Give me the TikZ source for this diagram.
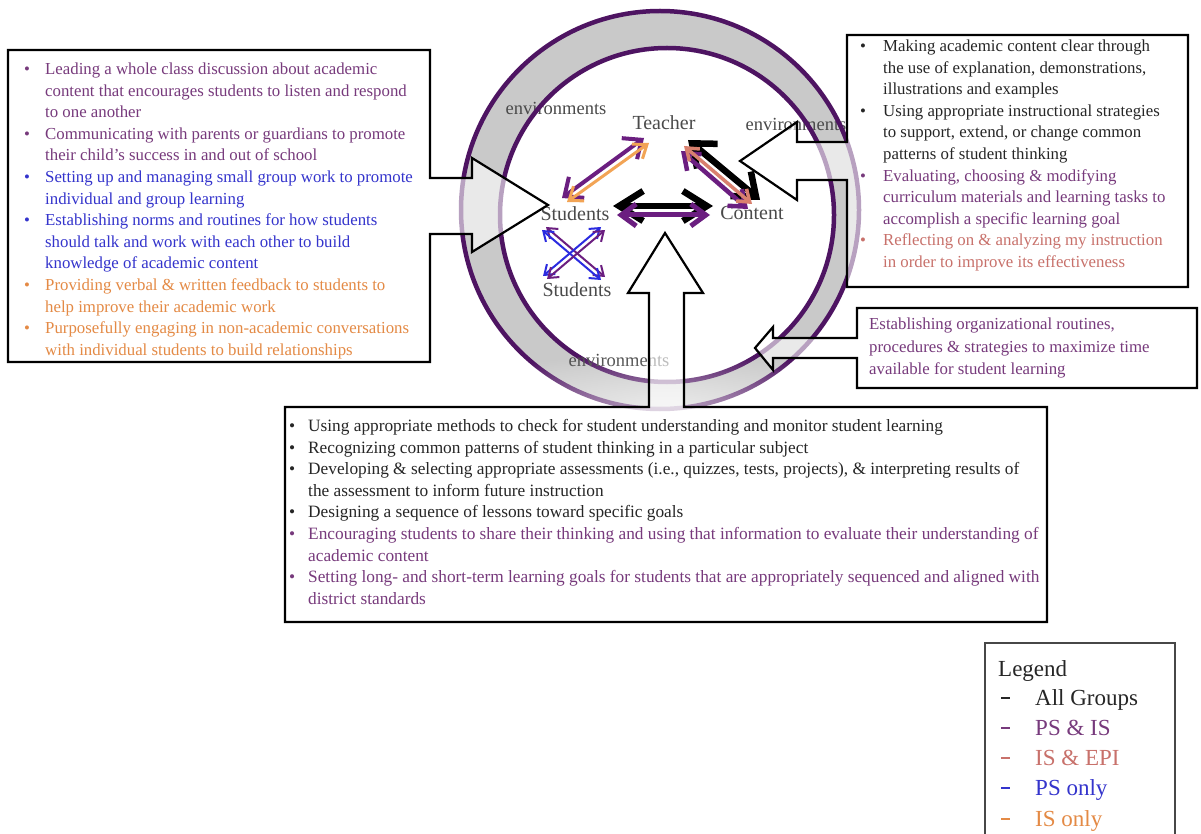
\documentclass[tikz,border=0pt]{standalone}
\usepackage{fontspec}
\setmainfont{Liberation Serif}
\usetikzlibrary{arrows.meta,fadings}

% ring and connector colours
\definecolor{ringgray}{HTML}{C9C9C9}
\definecolor{ringpur}{HTML}{4E1462}
\definecolor{apur}{HTML}{6B1E80}
\definecolor{aorg}{HTML}{F2A455}
\definecolor{asal}{HTML}{D9806E}
\definecolor{ablu}{HTML}{2B2BE0}
% text colours (legend groups)
\definecolor{tblk}{HTML}{262626}
\definecolor{tpur}{HTML}{773A7C}
\definecolor{tsal}{HTML}{C8716B}
\definecolor{tblu}{HTML}{3434CC}
\definecolor{torg}{HTML}{E48A45}
\definecolor{tgray}{HTML}{4A4A4A}

% bullet with a fixed hanging width, and the matching indent
\newcommand{\bul}[1]{\makebox[#1][l]{\textbullet}}
\newcommand{\ind}[1]{\hspace*{#1}}
% short legend dash
\newcommand{\lgdash}{\rule[6pt]{8.5pt}{2.2pt}}

\tikzfading[name=softglow, inner color=transparent!40, outer color=transparent!100]

\begin{document}
\begin{tikzpicture}[x=1pt,y=-1pt,
  lbl/.style={inner sep=0pt, text=tgray, font=\fontsize{20}{24}\selectfont},
  envlbl/.style={inner sep=0pt, text=tgray, font=\fontsize{18.5}{22}\selectfont},
  boxtext/.style={inner sep=0pt, anchor=base west, font=\fontsize{16.8}{21.6}\selectfont},
  lg/.style={inner sep=0pt, anchor=base west, font=\fontsize{23}{27}\selectfont},
  callout/.style={draw=black, line width=2.2pt, fill=white, fill opacity=0.6, line join=miter},
  blkA/.style={draw=black, line width=6.5pt,
    {Straight Barb[length=24pt,width=30pt]}-{Straight Barb[length=24pt,width=30pt]}},
  blkB/.style={draw=black, line width=6.5pt,
    {Straight Barb[length=20pt,width=32pt]}-{Straight Barb[length=20pt,width=32pt]}},
  purA/.style={draw=apur, line width=5pt,
    {Straight Barb[length=15pt,width=22pt]}-{Straight Barb[length=15pt,width=22pt]}},
  purB/.style={draw=apur, line width=4.5pt,
    {Straight Barb[length=14pt,width=22pt]}-{Straight Barb[length=14pt,width=22pt]}},
  purC/.style={draw=apur, line width=4pt,
    {Straight Barb[length=15pt,width=26pt]}-{Straight Barb[length=15pt,width=26pt]}},
  salA/.style={draw=asal, line width=3.5pt,
    {Straight Barb[length=11pt,width=16pt]}-{Straight Barb[length=11pt,width=16pt]}},
  orgA/.style={draw=aorg, line width=3pt,
    {Straight Barb[length=12pt,width=18pt]}-{Straight Barb[length=12pt,width=18pt]}},
  thinB/.style={draw=ablu, line width=2pt,
    {Straight Barb[length=9pt,width=13pt]}-{Straight Barb[length=9pt,width=13pt]}},
  thinP/.style={draw=apur, line width=2pt,
    {Straight Barb[length=9pt,width=13pt]}-{Straight Barb[length=9pt,width=13pt]}},
]
\useasboundingbox (0,0) rectangle (1201,834);
\fill[white] (0,0) rectangle (1201,834);

% ---- environment ring ----
\fill[ringgray, even odd rule] (660,210) circle[radius=199] (667,215) circle[radius=167];
\node[envlbl] (envA) at (556,108) {environments};
\node[envlbl] (envB) at (796,124) {environments};
\draw[ringpur, line width=4.5pt] (660,210) circle[radius=199];
\draw[ringpur, line width=4.5pt] (667,215) circle[radius=167];
\node[envlbl] (envC) at (619,360) {environments};

% ---- actors ----
\node[lbl] (tch) at (664,123) {Teacher};
\node[lbl] (st1) at (575,214) {Students};
\node[lbl] (cnt) at (752,213) {Content};
\node[lbl] (st2) at (577,290) {Students};

% connector end points
\coordinate (tsP1) at (562,198); \coordinate (tsP2) at (644,138);
\coordinate (tsO1) at (567,202); \coordinate (tsO2) at (649,143);
\coordinate (tcK1) at (688,140); \coordinate (tcK2) at (760,200);
\coordinate (tcS1) at (684,146); \coordinate (tcS2) at (752,204);
\coordinate (tcP1) at (681,151); \coordinate (tcP2) at (748,209);
\coordinate (scK1) at (613,206); \coordinate (scK2) at (713,206);
\coordinate (scP1) at (617,215); \coordinate (scP2) at (710,215);
\coordinate (xaB1) at (542,230); \coordinate (xaB2) at (601,280);
\coordinate (xaP1) at (546,227); \coordinate (xaP2) at (605,277);
\coordinate (xbP1) at (605,230); \coordinate (xbP2) at (547,279);
\coordinate (xbB1) at (601,227); \coordinate (xbB2) at (543,276);

% Teacher -- Students
\draw[purC] (tsP1) -- (tsP2);
\draw[orgA] (tsO1) -- (tsO2);
% Teacher -- Content
\draw[blkB] (tcK1) -- (tcK2);
\draw[purB] (tcP1) -- (tcP2);
\draw[salA] (tcS1) -- (tcS2);
% Students -- Content
\draw[blkA] (scK1) -- (scK2);
\draw[purA] (scP1) -- (scP2);
% Students -- Students
\draw[thinP] (xaP1) -- (xaP2);
\draw[thinB] (xaB1) -- (xaB2);
\draw[thinB] (xbB1) -- (xbB2);
\draw[thinP] (xbP1) -- (xbP2);

% soft glow above the lower box
\fill[white, path fading=softglow] (665,405) ellipse[x radius=240, y radius=52];

% ---- callout boxes ----
\draw[callout] (8,50) -- (430,50) -- (430,178) -- (472,178) -- (472,158) -- (548,205)
  -- (472,252) -- (472,234) -- (430,234) -- (430,362) -- (8,362) -- cycle;
\draw[callout] (847,35) -- (1188,35) -- (1188,287) -- (847,287) -- (847,180) -- (797,180)
  -- (797,200) -- (740,161) -- (797,122) -- (797,142) -- (847,142) -- cycle;
\draw[callout] (857,308) -- (1197,308) -- (1197,388) -- (857,388) -- (857,358) -- (773,358)
  -- (773,370) -- (755,348) -- (773,327) -- (773,338) -- (857,338) -- cycle;
\draw[callout] (285,407) -- (649,407) -- (649,293) -- (628,293) -- (665,233) -- (703,293)
  -- (684,293) -- (684,407) -- (1047,407) -- (1047,622) -- (285,622) -- cycle;

\node[boxtext, text=tpur] (leftTxt) at (24,74.5) {\begin{minipage}[t]{410pt}\raggedright
\bul{21pt}Leading a whole class discussion about academic\\
\ind{21pt}content that encourages students to listen and respond\\
\ind{21pt}to one another\\
\bul{21pt}Communicating with parents or guardians to promote\\
\ind{21pt}their child’s success in and out of school\\
\color{tblu}\bul{21pt}Setting up and managing small group work to promote\\
\ind{21pt}individual and group learning\\
\bul{21pt}Establishing norms and routines for how students\\
\ind{21pt}should talk and work with each other to build\\
\ind{21pt}knowledge of academic content\\
\color{torg}\bul{21pt}Providing verbal \& written feedback to students to\\
\ind{21pt}help improve their academic work\\
\bul{21pt}Purposefully engaging in non-academic conversations\\
\ind{21pt}with individual students to build relationships
\end{minipage}};

\node[boxtext, text=tblk] (rightTxt) at (860,51.5) {\begin{minipage}[t]{326pt}\raggedright
\bul{23pt}Making academic content clear through\\
\ind{23pt}the use of explanation, demonstrations,\\
\ind{23pt}illustrations and examples\\
\bul{23pt}Using appropriate instructional strategies\\
\ind{23pt}to support, extend, or change common\\
\ind{23pt}patterns of student thinking\\
\color{tpur}\bul{23pt}Evaluating, choosing \& modifying\\
\ind{23pt}curriculum materials and learning tasks to\\
\ind{23pt}accomplish a specific learning goal\\
\color{tsal}\bul{23pt}Reflecting on \& analyzing my instruction\\
\ind{23pt}in order to improve its effectiveness
\end{minipage}};

\node[boxtext, text=tpur, font=\fontsize{16.8}{22.5}\selectfont] (timeTxt) at (869,329.5)
{\begin{minipage}[t]{326pt}\raggedright
Establishing organizational routines,\\
procedures \& strategies to maximize time\\
available for student learning
\end{minipage}};

\node[boxtext, text=tblk, font=\fontsize{17.3}{21.6}\selectfont] (lowTxt) at (289,431.5)
{\begin{minipage}[t]{755pt}\raggedright
\bul{19pt}Using appropriate methods to check for student understanding and monitor student learning\\
\bul{19pt}Recognizing common patterns of student thinking in a particular subject\\
\bul{19pt}Developing \& selecting appropriate assessments (i.e., quizzes, tests, projects), \& interpreting results of\\
\ind{19pt}the assessment to inform future instruction\\
\bul{19pt}Designing a sequence of lessons toward specific goals\\
\color{tpur}\bul{19pt}Encouraging students to share their thinking and using that information to evaluate their understanding of\\
\ind{19pt}academic content\\
\bul{19pt}Setting long- and short-term learning goals for students that are appropriately sequenced and aligned with\\
\ind{19pt}district standards
\end{minipage}};

% ---- legend ----
\draw[draw=tblk!85, line width=1.8pt] (985,834) -- (985,643) -- (1175,643) -- (1175,834);
\node[lg, text=tblk] (lgHead) at (998,676) {Legend};
\node[lg, text=tblk] (lgD1) at (1001,705) {\lgdash};
\node[lg, text=tblk] (lgT1) at (1035,705) {All Groups};
\node[lg, text=tpur] (lgD2) at (1001,735) {\lgdash};
\node[lg, text=tpur] (lgT2) at (1035,735) {PS \& IS};
\node[lg, text=tsal] (lgD3) at (1001,765) {\lgdash};
\node[lg, text=tsal] (lgT3) at (1035,765) {IS \& EPI};
\node[lg, text=tblu] (lgD4) at (1001,795) {\lgdash};
\node[lg, text=tblu] (lgT4) at (1035,795) {PS only};
\node[lg, text=torg] (lgD5) at (1001,826) {\lgdash};
\node[lg, text=torg] (lgT5) at (1035,826) {IS only};
\end{tikzpicture}
\end{document}
